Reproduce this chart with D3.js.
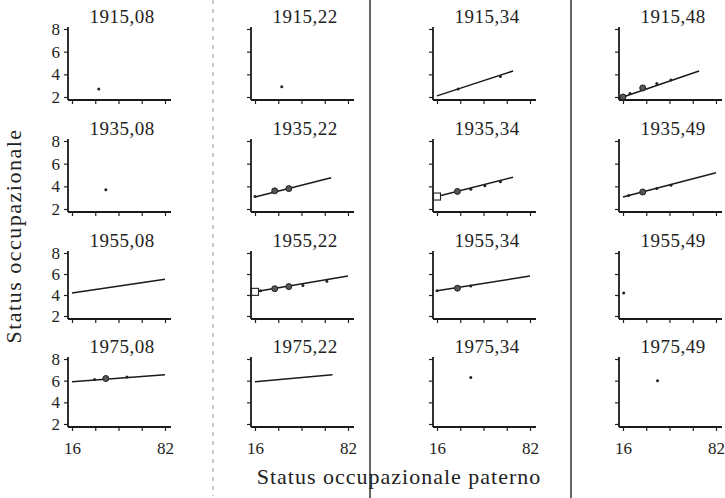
<!DOCTYPE html>
<html>
<head>
<meta charset="utf-8">
<script src="https://cdn.jsdelivr.net/npm/d3@7"></script>
<style>
  body { margin: 0; background: #fff; }
  text { font-family: "Liberation Serif", "DejaVu Serif", serif; fill: #222; }
</style>
</head>
<body>
<div id="chart"></div>
<script>
// panel titles, row by row (year of birth, cohort)
var panelTitles = [
  "1915,08", "1915,22", "1915,34", "1915,48",
  "1935,08", "1935,22", "1935,34", "1935,49",
  "1955,08", "1955,22", "1955,34", "1955,49",
  "1975,08", "1975,22", "1975,34", "1975,49"
];

var xTicks = [16, 32.5, 49, 65.5, 82];
var xLabels = [16, 82];
var yTicks = [2, 4, 6, 8];

// fitted line per panel: [x start, y start, x end, y end], null = no line
var fitLines = [
  null, null, [16, 2.1, 70, 4.3], [16, 2.0, 70, 4.3],
  null, [16, 3.05, 70, 4.75], [16, 3.1, 70, 4.8], [16, 3.05, 82, 5.2],
  [16, 4.2, 82, 5.5], [16, 4.3, 82, 5.8], [16, 4.4, 82, 5.8], null,
  [16, 5.9, 82, 6.55], [16, 5.9, 71, 6.55], null, null
];

// observed points per panel: [x, y, kind]  s = small dot, b = big dot, q = open square
var markers = [
  [[35, 2.7, "s"]],
  [[35, 2.9, "s"]],
  [[31, 2.7, "s"], [61, 3.8, "s"]],
  [[16, 2.0, "b"], [21, 2.3, "s"], [30, 2.8, "b"], [40, 3.2, "s"], [50, 3.5, "s"]],
  [[40, 3.7, "s"]],
  [[16, 3.1, "s"], [30, 3.6, "b"], [40, 3.8, "b"]],
  [[16, 3.1, "q"], [30.5, 3.55, "b"], [40, 3.75, "s"], [50, 4.05, "s"], [61, 4.4, "s"]],
  [[20, 3.2, "s"], [30, 3.5, "b"], [40, 3.8, "s"], [50, 4.1, "s"]],
  [],
  [[16, 4.3, "q"], [20, 4.4, "s"], [30, 4.6, "b"], [40, 4.8, "b"], [50, 4.9, "s"], [67, 5.3, "s"]],
  [[16, 4.4, "s"], [30.5, 4.65, "b"], [40, 4.85, "s"]],
  [[16.5, 4.2, "s"]],
  [[32, 6.1, "s"], [40, 6.2, "b"], [55, 6.35, "s"]],
  [],
  [[40, 6.3, "s"]],
  [[40.5, 6.0, "s"]]
];

var width = 725, height = 498;

// panel grid positions
var colLeft = [72, 255, 437, 623], plotW = 93;
var rowTop = [29, 141, 253, 359], rowBottom = [97, 209, 316, 424];

var svg = d3.select("#chart").append("svg")
    .attr("width", width)
    .attr("height", height)
    .style("background", "#fff");

// page-fold lines visible in the scanned figure
svg.append("line")
    .attr("x1", 213).attr("x2", 213).attr("y1", 0).attr("y2", 496)
    .style("stroke", "#999").style("stroke-width", 1)
    .style("stroke-dasharray", "4,5");
[370, 571].forEach(function(lx) {
  svg.append("line")
      .attr("x1", lx).attr("x2", lx).attr("y1", 0).attr("y2", height)
      .style("stroke", "#333").style("stroke-width", 1.5);
});

panelTitles.forEach(function(title, i) {
  var r = Math.floor(i / 4), c = i % 4;

  var x = d3.scaleLinear().domain([16, 82]).range([colLeft[c], colLeft[c] + plotW]);
  var y = d3.scaleLinear().domain([2, 8]).range([rowBottom[r], rowTop[r]]);

  var x0 = colLeft[c] - 4, yb = rowBottom[r] + 3;
  var g = svg.append("g");

  // y axis
  var ya = g.append("g")
      .attr("transform", "translate(" + x0 + ",0)")
      .call(d3.axisLeft(y).tickValues(yTicks).tickSize(4).tickPadding(4)
        .tickFormat(function(d) { return c == 0 ? d : ""; }));
  ya.select(".domain").remove();
  ya.selectAll("line").style("stroke", "#222").style("stroke-width", 1.2);
  ya.selectAll("text").style("font-size", "17px").style("font-family", "Liberation Serif");

  // x axis
  var xa = g.append("g")
      .attr("transform", "translate(0," + yb + ")")
      .call(d3.axisBottom(x).tickValues(xTicks).tickSize(4).tickPadding(11)
        .tickFormat(function(d) { return (r == 3 && xLabels.indexOf(d) >= 0) ? d : ""; }));
  xa.select(".domain").remove();
  xa.selectAll("line").style("stroke", "#222").style("stroke-width", 1.2);
  xa.selectAll("text").style("font-size", "17px").style("font-family", "Liberation Serif");

  // axis lines
  g.append("line")
      .attr("x1", x0).attr("x2", x0).attr("y1", rowTop[r] - 2).attr("y2", yb)
      .style("stroke", "#1a1a1a").style("stroke-width", 1.8);
  g.append("line")
      .attr("x1", x0).attr("x2", colLeft[c] + plotW + 6).attr("y1", yb).attr("y2", yb)
      .style("stroke", "#1a1a1a").style("stroke-width", 1.8);

  // title
  g.append("text")
      .attr("x", colLeft[c] + 50)
      .attr("y", rowTop[r] - 6)
      .attr("text-anchor", "middle")
      .style("font-size", "19px")
      .style("letter-spacing", "0.5px")
      .text(title);

  // fitted line
  var fl = fitLines[i];
  if (fl) {
    g.append("line")
        .attr("x1", x(fl[0])).attr("y1", y(fl[1]))
        .attr("x2", x(fl[2])).attr("y2", y(fl[3]))
        .style("stroke", "#1a1a1a").style("stroke-width", 1.5);
  }

  // points
  markers[i].forEach(function(m) {
    if (m[2] == "q") {
      g.append("rect")
          .attr("x", x(m[0]) - 3.5).attr("y", y(m[1]) - 3.5)
          .attr("width", 7).attr("height", 7)
          .style("fill", "#fff").style("stroke", "#222").style("stroke-width", 1.1);
    } else {
      g.append("circle")
          .attr("cx", x(m[0])).attr("cy", y(m[1]))
          .attr("r", m[2] == "b" ? 3 : 1.5)
          .style("fill", m[2] == "b" ? "#555" : "#222")
          .style("stroke", "#222").style("stroke-width", m[2] == "b" ? 1 : 0);
    }
  });
});

// axis titles
svg.append("text")
    .attr("text-anchor", "middle")
    .attr("transform", "translate(21,236)rotate(-90)")
    .style("font-size", "22px")
    .style("letter-spacing", "1.5px")
    .text("Status occupazionale");

svg.append("text")
    .attr("x", 399)
    .attr("y", 484)
    .attr("text-anchor", "middle")
    .style("font-size", "22px")
    .style("letter-spacing", "1px")
    .text("Status occupazionale paterno");
</script>
</body>
</html>
